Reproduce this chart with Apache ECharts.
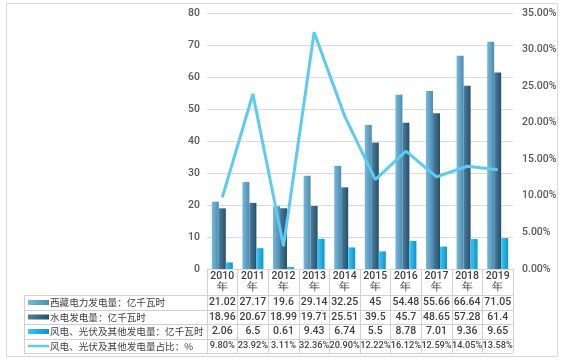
<!DOCTYPE html>
<html><head><meta charset="utf-8">
<script src="https://cdn.jsdelivr.net/npm/echarts@6/dist/echarts.min.js"></script>
<style>html,body{margin:0;padding:0;background:#fff}#c{width:564px;height:362px}</style>
</head><body><div id="c"></div>
<script>
var years = ['2010','2011','2012','2013','2014','2015','2016','2017','2018','2019'];
var yearLabels = years.map(function(y){return y+'\n年';});
var totalGen = [21.02,27.17,19.6,29.14,32.25,45,54.48,55.66,66.64,71.05];
var hydroGen = [18.96,20.67,18.99,19.71,25.51,39.5,45.7,48.65,57.28,61.4];
var windGen = [2.06,6.5,0.61,9.43,6.74,5.5,8.78,7.01,9.36,9.65];
var windShare = [9.80,23.92,3.11,32.36,20.90,12.22,16.12,12.59,14.05,13.58];
var names = ['西藏电力发电量：亿千瓦时','水电发电量：亿千瓦时','风电、光伏及其他发电量：亿千瓦时','风电、光伏及其他发电量占比：%'];

var txt = '#404040', font = 'Noto Sans CJK SC';
var numFont = 'Roboto, "Noto Sans", sans-serif';
function grad(a,b){return new echarts.graphic.LinearGradient(0,0,1,0,[{offset:0,color:a},{offset:1,color:b}]);}
var colors = [['#78b8da','#4b8cb0'],['#4d7f9e','#24506c'],['#3cc6f2','#0e94cf']];
function rowAxis(data, offset, size){
  return {type:'category', data:data, position:'bottom', offset:offset, gridIndex:0,
    axisLine:{show:false}, axisTick:{show:false},
    axisLabel:{interval:0, margin:0, verticalAlign:'middle', color:txt, fontSize:size||10.5, fontWeight:500, fontFamily:numFont}};
}
var chart = echarts.init(document.getElementById('c'));
var rowsY = [295.5,310.5,324.5,339.5,353.5];
var rowCenters = [302.5,317,331.5,346];
var graphics = [{type:'rect', shape:{x:6.5,y:3.5,width:551,height:353}, style:{fill:'none', stroke:'#d9d9d9', lineWidth:1}, silent:true}];
rowsY.forEach(function(y){graphics.push({type:'line', shape:{x1:24,y1:y,x2:513,y2:y}, style:{stroke:'#d0d0d0', lineWidth:1}, silent:true, z:10});});
graphics.push({type:'line', shape:{x1:24.5,y1:295,x2:24.5,y2:354}, style:{stroke:'#d0d0d0', lineWidth:1}, silent:true, z:10});
names.forEach(function(n,i){
  var cy = rowCenters[i];
  if (i < 3) {
    graphics.push({type:'rect', shape:{x:28,y:cy-2.5,width:21,height:5}, style:{fill:grad(colors[i][0],colors[i][1])}, silent:true, z:10});
  } else {
    graphics.push({type:'line', shape:{x1:28,y1:cy,x2:49,y2:cy}, style:{stroke:'#5ccbf2', lineWidth:2.5}, silent:true, z:10});
  }
  graphics.push({type:'text', x:50, y:cy, style:{text:n, fill:txt, font:'9.6px "Noto Sans CJK SC"', verticalAlign:'middle', textAlign:'left'}, silent:true, z:10});
});

chart.setOption({
  animation:false,
  textStyle:{fontFamily:font},
  grid:{left:207, right:51, top:13, bottom:93},
  xAxis:[
    {type:'category', data:yearLabels, gridIndex:0,
      axisLine:{lineStyle:{color:'#d9d9d9'}},
      axisTick:{show:true, length:84, interval:0, lineStyle:{color:'#d0d0d0'}},
      axisLabel:{interval:0, margin:13, verticalAlign:'middle', lineHeight:11, color:txt, fontSize:10.5, fontWeight:500, fontFamily:numFont}},
    rowAxis(totalGen.map(String), 33.5),
    rowAxis(hydroGen.map(String), 48),
    rowAxis(windGen.map(String), 62.5),
    rowAxis(windShare.map(function(v){return v.toFixed(2)+'%';}), 77, 9.2)
  ],
  yAxis:[
    {type:'value', min:0, max:80, interval:10,
      axisLine:{show:false}, axisTick:{show:false},
      splitLine:{lineStyle:{color:'#d9d9d9'}},
      axisLabel:{color:'#595959', fontSize:10.5, fontWeight:500, margin:7, fontFamily:numFont}},
    {type:'value', min:0, max:35, interval:5, position:'right',
      axisLine:{show:false}, axisTick:{show:false}, splitLine:{show:false},
      axisLabel:{color:'#595959', fontSize:10.5, fontWeight:500, margin:9, fontFamily:numFont, formatter:function(v){return v.toFixed(2)+'%';}}}
  ],
  series:[
    {name:names[0], type:'bar', data:totalGen, barWidth:7, barGap:'0%',
      itemStyle:{color:grad(colors[0][0],colors[0][1])}},
    {name:names[1], type:'bar', data:hydroGen, barWidth:7, barGap:'0%',
      itemStyle:{color:grad(colors[1][0],colors[1][1])}},
    {name:names[2], type:'bar', data:windGen, barWidth:7, barGap:'0%',
      itemStyle:{color:grad(colors[2][0],colors[2][1])}},
    {name:names[3], type:'line', yAxisIndex:1, data:windShare, symbol:'none',
      lineStyle:{color:'#5ccbf2', width:3}, itemStyle:{color:'#5ccbf2'}}
  ],
  graphic:graphics
});
</script></body></html>
